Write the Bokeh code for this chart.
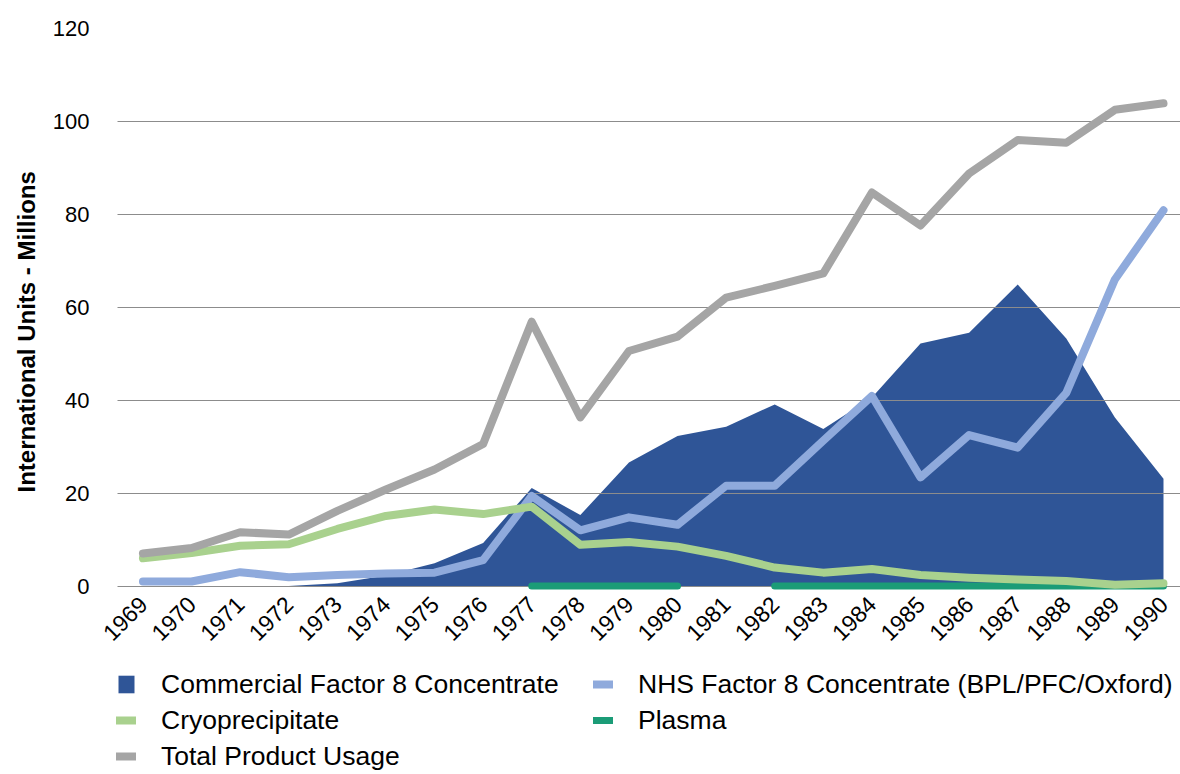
import math
from bokeh.plotting import figure
from bokeh.models import (ColumnDataSource, Range1d, FixedTicker, Legend, LegendItem, Title)
from bokeh.embed import file_html
from bokeh.resources import INLINE

nan = float("nan")

years = list(range(1969, 1991))
year_labels = [str(y) for y in years]
commercial = [0, 0, 0, 0, 0.6, 2.3, 4.9, 9.3, 21.1, 15.3, 26.6, 32.3, 34.3, 39.1,
              33.8, 40.6, 52.2, 54.5, 64.9, 53.3, 36.3, 23.1]
nhs = [1.0, 1.0, 3.0, 1.9, 2.4, 2.7, 2.9, 5.6, 19.4, 12.0, 14.8, 13.2, 21.6, 21.6,
       31.3, 40.9, 23.4, 32.5, 29.8, 41.6, 66.0, 80.9]
cryo = [6.0, 7.1, 8.7, 9.0, 12.3, 15.1, 16.5, 15.5, 17.1, 8.9, 9.5, 8.5, 6.5, 4.0,
        2.9, 3.7, 2.4, 1.8, 1.4, 1.1, 0.3, 0.6]
plasma = [nan, nan, nan, nan, nan, nan, nan, nan, 0, 0, 0, 0, nan, 0,
          0, 0, 0, 0, 0, 0, 0, 0]
total = [7.0, 8.2, 11.6, 11.1, 16.2, 20.8, 25.1, 30.6, 56.9, 36.3, 50.6, 53.7, 62.1, 64.6,
         67.3, 84.7, 77.6, 88.8, 96.0, 95.4, 102.5, 103.9]
y_ticks = [0, 20, 40, 60, 80, 100, 120]

names = ["Commercial Factor 8 Concentrate", "NHS Factor 8 Concentrate (BPL/PFC/Oxford)",
         "Cryoprecipitate", "Plasma", "Total Product Usage"]
colors = ["#2F5597", "#8FAADC", "#A9D18E", "#1B9C77", "#A5A5A5"]

src = ColumnDataSource(dict(x=years, commercial=commercial, zero=[0] * len(years),
                            nhs=nhs, cryo=cryo, plasma=plasma, total=total))

FONT = "Liberation Sans"
X_START, X_END = 1968.147, 1990.35
GRID_START = 1968.476

# frame spans from y=28 to the bottom of the figure (746 px); 120 units over 557.6 px
p = figure(width=1180, height=774, output_backend="svg", toolbar_location=None,
           x_range=Range1d(X_START, X_END), y_range=Range1d(-40.54, 120),
           min_border_left=100, min_border_right=0, min_border_top=28, min_border_bottom=0)
p.outline_line_color = None
p.background_fill_color = "white"
p.border_fill_color = "white"

r_comm = p.varea(x="x", y1="zero", y2="commercial", source=src, fill_color=colors[0], level="image")
r_nhs = p.line(x="x", y="nhs", source=src, line_color=colors[1], line_width=8,
               line_join="round", line_cap="round")
r_pl = p.line(x="x", y="plasma", source=src, line_color=colors[3], line_width=7,
              line_join="round", line_cap="round")
r_cryo = p.line(x="x", y="cryo", source=src, line_color=colors[2], line_width=8,
                line_join="round", line_cap="round")
r_tot = p.line(x="x", y="total", source=src, line_color=colors[4], line_width=8,
               line_join="round", line_cap="round")

# grid
p.xgrid.visible = False
p.ygrid.ticker = FixedTicker(ticks=y_ticks)
p.ygrid.grid_line_color = "#8C8C8C"
p.ygrid.grid_line_width = 1
p.ygrid.cross_bounds = (GRID_START, X_END)

# y axis
p.yaxis.ticker = FixedTicker(ticks=y_ticks)
p.yaxis.axis_line_color = None
p.yaxis.major_tick_line_color = None
p.yaxis.minor_tick_line_color = None
p.yaxis.major_tick_out = 0
p.yaxis.major_tick_in = 0
p.yaxis.major_label_standoff = 12
p.yaxis.major_label_text_font = FONT
p.yaxis.major_label_text_font_size = "22px"
p.yaxis.major_label_text_color = "#000000"

# x axis, drawn at y = 0
p.xaxis.fixed_location = 0
p.xaxis.ticker = FixedTicker(ticks=years)
p.xaxis.major_label_overrides = {y: l for y, l in zip(years, year_labels)}
p.xaxis.axis_line_color = None
p.xaxis.major_tick_line_color = None
p.xaxis.minor_tick_line_color = None
p.xaxis.major_tick_out = 0
p.xaxis.major_tick_in = 0
p.xaxis.major_label_orientation = math.pi / 4
p.xaxis.major_label_standoff = 14
p.xaxis.major_label_text_font = FONT
p.xaxis.major_label_text_font_size = "23px"
p.xaxis.major_label_text_color = "#000000"

# y axis title
p.add_layout(Title(text="International Units - Millions", align="left", offset=282,
                   text_font=FONT, text_font_size="24px", text_font_style="bold",
                   text_color="#000000", standoff=20), "left")

legend = Legend(items=[LegendItem(label=names[0], renderers=[r_comm]),
                       LegendItem(label=names[2], renderers=[r_cryo]),
                       LegendItem(label=names[4], renderers=[r_tot]),
                       LegendItem(label=names[1], renderers=[r_nhs]),
                       LegendItem(label=names[3], renderers=[r_pl])],
                location=(15, 0), orientation="vertical", ncols=2,
                border_line_color=None, background_fill_alpha=0,
                padding=0, margin=0, spacing=0,
                glyph_width=20, glyph_height=22, label_height=36, label_width=432,
                label_standoff=25,
                label_text_font=FONT, label_text_font_size="26.5px",
                label_text_color="#000000")
p.add_layout(legend)

open("out.html", "w").write(file_html(p, INLINE))
